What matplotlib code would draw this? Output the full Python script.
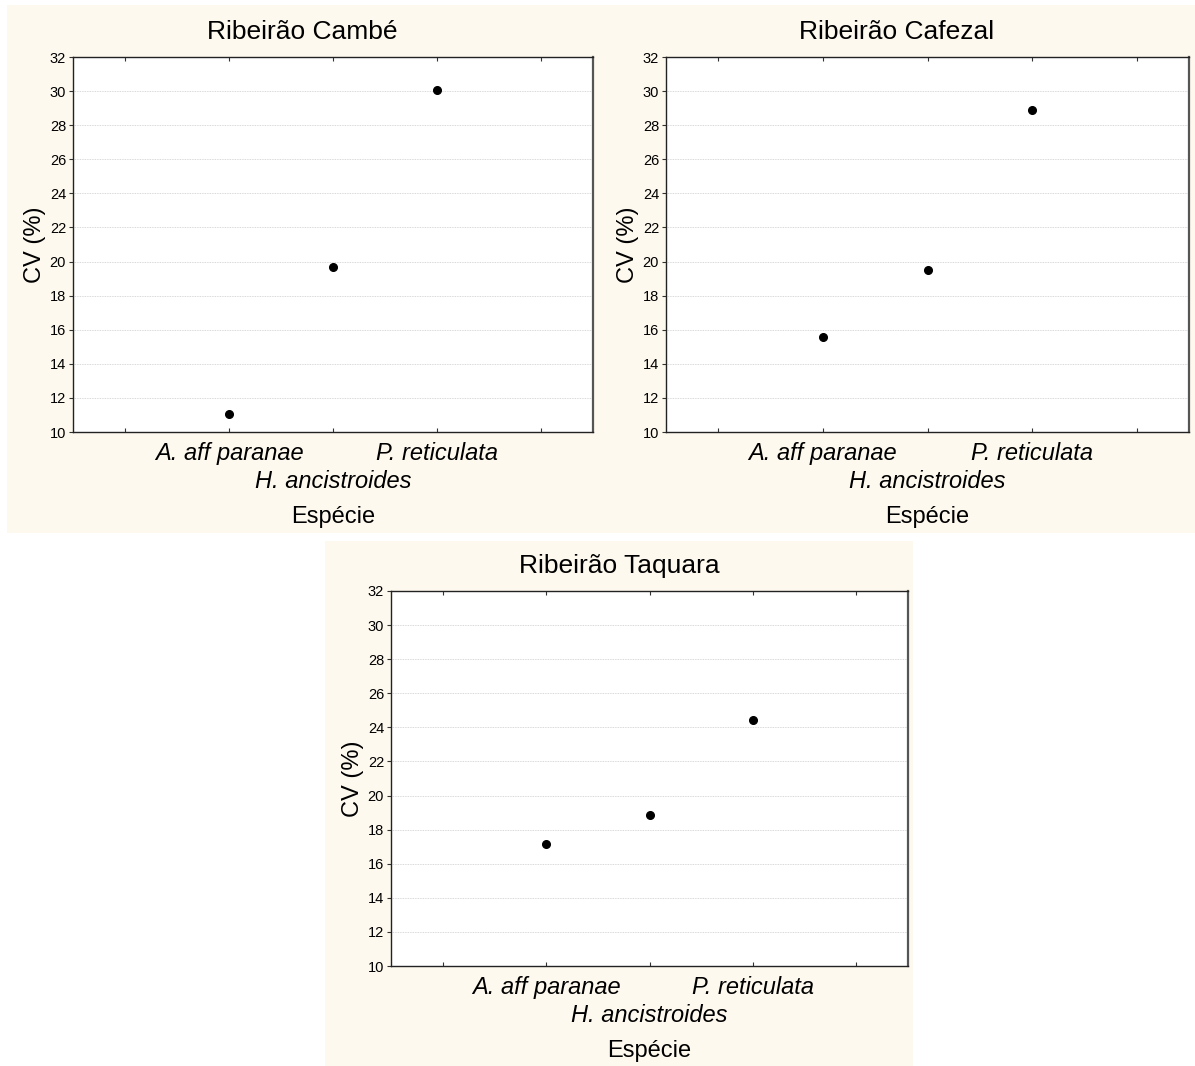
"""Coeficiente de variação (CV %) por espécie em três riachos."""

import matplotlib
matplotlib.use("Agg")
import matplotlib.pyplot as plt
import numpy as np
from matplotlib.patches import Rectangle

plt.rcParams["font.family"] = ["Liberation Sans", "DejaVu Sans"]

W, H = 1195, 1066
BG = "#fef9ee"

species = ["A. aff paranae", "H. ancistroides", "P. reticulata"]
titles = ["Ribeirão Cambé", "Ribeirão Cafezal", "Ribeirão Taquara"]
cv_cambe = [11.05, 19.7, 30.05]
cv_cafezal = [15.6, 19.5, 28.9]
cv_taquara = [17.15, 18.85, 24.45]
yticks = list(range(10, 33, 2))

# pixel boxes: (left, top, right, bottom)
panel_boxes = [(7, 5, 598, 533), (598, 5, 1195, 533), (325, 541, 913, 1066)]
axes_boxes = [(73, 57, 593, 432), (666, 57, 1189, 432), (391, 591, 908, 966)]


def fig_rect(box):
    l, t, r, b = box
    return [l / W, 1 - b / H, (r - l) / W, (b - t) / H]


def main():
    fig = plt.figure(figsize=(W / 100, H / 100), dpi=100)

    for box in panel_boxes:
        x, y, w, h = fig_rect(box)
        fig.patches.append(Rectangle((x, y), w, h, transform=fig.transFigure,
                                     facecolor=BG, edgecolor="none",
                                     zorder=-10))

    xpos = np.arange(len(species)) + 1.5
    xticks = np.arange(0.5, 5, 1)
    # outer species on the first row, middle one staggered below (minor tick)
    major_labels = ["", species[0], "", species[2], ""]

    for pbox, box, title, vals in zip(panel_boxes, axes_boxes, titles,
                                      [cv_cambe, cv_cafezal, cv_taquara]):
        ax = fig.add_axes(fig_rect(box))
        ax.set_zorder(1)
        ax.set_facecolor("white")
        ax.plot(xpos, vals, "o", color="black", markersize=5.5, zorder=3)
        ax.set_xlim(0, 5)
        ax.set_ylim(10, 32)
        ax.set_yticks(yticks)
        ax.xaxis.remove_overlapping_locs = False
        ax.set_xticks(xticks)
        ax.set_xticklabels(major_labels, fontsize=17, style="italic")
        ax.set_xticks([xpos[1]], minor=True)
        ax.set_xticklabels([species[1]], minor=True, fontsize=17,
                           style="italic")
        ax.tick_params(axis="x", which="major", direction="in", length=3,
                       top=True, pad=7, color="#333333")
        ax.tick_params(axis="x", which="minor", length=0, pad=27)
        ax.tick_params(axis="y", direction="out", length=3, labelsize=10.5,
                       pad=2, color="#333333")
        ax.grid(axis="y", color="#cccccc", linestyle=(0, (1, 1)),
                linewidth=0.6)
        ax.set_axisbelow(True)
        for side in ["left", "bottom", "top"]:
            ax.spines[side].set_color("#222222")
            ax.spines[side].set_linewidth(1.0)
        ax.spines["right"].set_color("#555555")
        ax.spines["right"].set_linewidth(1.6)
        # title centred on the whole panel, not the plot area
        tx = ((pbox[0] + pbox[2]) / 2 - box[0]) / (box[2] - box[0])
        ax.set_title(title, fontsize=19, pad=13, x=tx)
        ax.set_ylabel("CV (%)", fontsize=17, labelpad=3)
        ax.set_xlabel("Espécie", fontsize=17, labelpad=10)

    fig.savefig("out.png", dpi=100, facecolor="white")


if __name__ == "__main__":
    main()
